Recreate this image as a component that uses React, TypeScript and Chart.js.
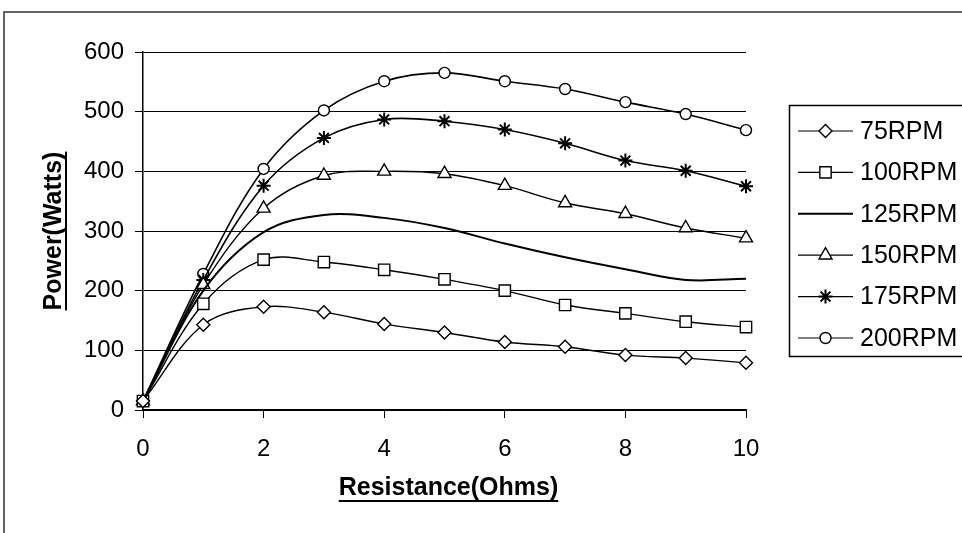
import React, { useEffect, useRef } from 'react';
import { Chart, registerables } from 'chart.js';
import { drawPoint } from 'chart.js/helpers';

Chart.register(...registerables);

const resistance = [0, 1, 2, 3, 4, 5, 6, 7, 8, 9, 10];
const seriesNames = ['75RPM', '100RPM', '125RPM', '150RPM', '175RPM', '200RPM'];
const rpm75 = [15, 143, 173, 164, 144, 130, 114, 106, 92, 87, 79];
const rpm100 = [15, 178, 252, 248, 235, 219, 200, 176, 162, 148, 139];
const rpm125 = [15, 200, 298, 327, 322, 305, 279, 256, 236, 218, 220];
const rpm150 = [15, 210, 338, 393, 400, 396, 376, 347, 329, 305, 288];
const rpm175 = [15, 218, 376, 456, 487, 484, 470, 447, 418, 401, 375];
const rpm200 = [15, 228, 404, 502, 551, 565, 551, 538, 516, 496, 469];
const seriesValues = [rpm75, rpm100, rpm125, rpm150, rpm175, rpm200];

const xTitle = 'Resistance(Ohms)';
const yTitle = 'Power(Watts)';

const markerStyles: any[] = ['rectRot', 'rect', false, 'triangle', 'star', 'circle'];
const markerRadii = [6.5, 8, 0, 7.5, 7, 5.5];
const markerBorders = [1.4, 1.4, 0, 1.4, 2, 1.4];
const lineWidths = [1.4, 1.4, 2, 1.4, 1.6, 1.6];

const FONT = "'Liberation Sans', Arial, sans-serif";

const decorPlugin = {
  id: 'decor',
  beforeDraw(chart: any) {
    const ctx = chart.ctx;
    ctx.save();
    ctx.fillStyle = '#fff';
    ctx.fillRect(0, 0, chart.width, chart.height);
    ctx.strokeStyle = '#333';
    ctx.lineWidth = 1.5;
    ctx.beginPath();
    ctx.moveTo(4, 533);
    ctx.lineTo(4, 12);
    ctx.lineTo(962, 12);
    ctx.stroke();
    ctx.restore();
  },
  afterDraw(chart: any) {
    const ctx = chart.ctx;
    ctx.save();
    ctx.fillStyle = '#000';
    // X title
    ctx.font = `bold 25px ${FONT}`;
    ctx.textAlign = 'center';
    ctx.textBaseline = 'alphabetic';
    const xc = (chart.chartArea.left + chart.chartArea.right) / 2 + 4;
    ctx.fillText(xTitle, xc, 495);
    const xw = ctx.measureText(xTitle).width;
    ctx.fillRect(xc - xw / 2, 500, xw, 2);
    // Y title
    ctx.save();
    ctx.translate(61, 231);
    ctx.rotate(-Math.PI / 2);
    ctx.fillText(yTitle, 0, 0);
    const yw = ctx.measureText(yTitle).width;
    ctx.fillRect(-yw / 2, 4, yw, 2);
    ctx.restore();

    // Legend
    ctx.strokeStyle = '#000';
    ctx.lineWidth = 1.5;
    ctx.strokeRect(789.5, 105.5, 200, 251);
    ctx.font = `25px ${FONT}`;
    ctx.textAlign = 'left';
    ctx.textBaseline = 'middle';
    seriesNames.forEach((name, i) => {
      const y = 131 + i * 41.4;
      ctx.strokeStyle = '#000';
      ctx.lineWidth = i === 2 ? 2 : 1.2;
      ctx.beginPath();
      ctx.moveTo(798, y);
      ctx.lineTo(853, y);
      ctx.stroke();
      if (markerStyles[i]) {
        ctx.fillStyle = '#fff';
        ctx.lineWidth = markerBorders[i];
        drawPoint(ctx, { pointStyle: markerStyles[i], radius: markerRadii[i], rotation: 0, borderWidth: markerBorders[i] } as any, 825.5, y);
      }
      ctx.fillStyle = '#000';
      ctx.fillText(name, 860, y + 1);
    });
    ctx.restore();
  },
};

export default function App() {
  const ref = useRef<HTMLCanvasElement>(null);
  useEffect(() => {
    if (!ref.current) return;
    const datasets = seriesNames.map((name, i) => ({
      label: name,
      data: resistance.map((x, j) => ({ x, y: seriesValues[i][j] })),
      borderColor: '#000',
      backgroundColor: '#fff',
      borderWidth: lineWidths[i],
      pointStyle: markerStyles[i] || 'circle',
      pointRadius: markerRadii[i],
      pointBorderWidth: markerBorders[i],
      pointBorderColor: '#000',
      pointBackgroundColor: '#fff',
      tension: 0.35,
      fill: false,
      clip: false as any,
    }));
    const chart = new Chart(ref.current, {
      type: 'line',
      data: { datasets },
      options: {
        animation: false,
        responsive: false,
        devicePixelRatio: 1,
        events: [],
        layout: { padding: { left: 0, top: 52, right: 216, bottom: 63 } },
        plugins: { legend: { display: false }, tooltip: { enabled: false }, title: { display: false } },
        scales: {
          x: {
            type: 'linear',
            min: 0,
            max: 10,
            afterFit: (s: any) => { s.height = 60; },
            ticks: { stepSize: 2, color: '#000', font: { family: FONT, size: 24 }, padding: 17, maxRotation: 0 },
            grid: { drawOnChartArea: false, drawTicks: true, tickLength: 8, color: '#000', lineWidth: 1 },
            border: { display: true, color: '#000', width: 1.5 },
          },
          y: {
            type: 'linear',
            min: 0,
            max: 600,
            afterFit: (s: any) => { s.width = 143; },
            ticks: { stepSize: 100, color: '#000', font: { family: FONT, size: 24 }, padding: 11 },
            grid: { color: '#000', lineWidth: 1, tickLength: 8, drawTicks: true },
            border: { display: true, color: '#000', width: 1.5 },
          },
        },
      },
      plugins: [decorPlugin],
    });
    return () => chart.destroy();
  }, []);
  return (
    <div style={{ position: 'absolute', left: 0, top: 0, width: 962, height: 533 }}>
      <canvas ref={ref} width={962} height={533} style={{ display: 'block', width: 962, height: 533 }} />
    </div>
  );
}
